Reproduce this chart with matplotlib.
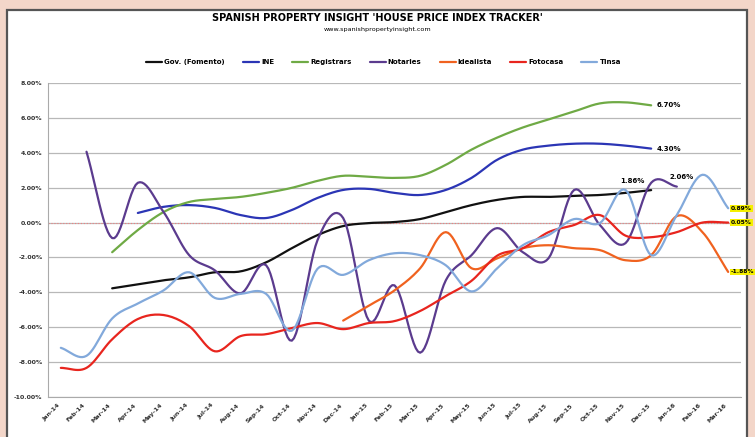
import numpy as np
import matplotlib.pyplot as plt
from matplotlib.patches import Rectangle

plt.rcParams['font.family'] = ['Liberation Sans Narrow', 'DejaVu Sans']

# ---------------------------------------------------------------------------
# DATA (annual % change)
# ---------------------------------------------------------------------------
months = ['Jan-14', 'Feb-14', 'Mar-14', 'Apr-14', 'May-14', 'Jun-14', 'Jul-14',
          'Aug-14', 'Sep-14', 'Oct-14', 'Nov-14', 'Dec-14', 'Jan-15', 'Feb-15',
          'Mar-15', 'Apr-15', 'May-15', 'Jun-15', 'Jul-15', 'Aug-15', 'Sep-15',
          'Oct-15', 'Nov-15', 'Dec-15', 'Jan-16', 'Feb-16', 'Mar-16']

nan = np.nan
fomento = [nan, nan, -3.77, -3.54, -3.31, -3.14, -2.85, -2.80, -2.28, -1.47, -0.72,
           -0.20, -0.03, 0.03, 0.20, 0.60, 1.00, 1.30, 1.47, 1.47, 1.53, 1.58, 1.70,
           1.86, nan, nan, nan]
ine = [nan, nan, nan, 0.55, 0.90, 1.00, 0.84, 0.43, 0.26, 0.72, 1.41, 1.87, 1.93,
       1.70, 1.58, 1.87, 2.56, 3.60, 4.18, 4.41, 4.52, 4.52, 4.41, 4.24, nan, nan, nan]
registradores = [nan, nan, -1.70, -0.43, 0.60, 1.18, 1.35, 1.47, 1.70, 1.99, 2.39,
                 2.68, 2.62, 2.56, 2.68, 3.31, 4.18, 4.87, 5.45, 5.91, 6.37, 6.83,
                 6.89, 6.72, nan, nan, nan]
notarios = [nan, 4.06, -0.89, 2.28, 0.61, -1.87, -2.74, -4.06, -2.45, -6.77, -1.01,
            0.26, -5.62, -3.60, -7.46, -3.31, -1.87, -0.32, -1.70, -2.05, 1.87,
            -0.14, -1.18, 2.28, 2.06, nan, nan]
idealista = [nan, nan, nan, nan, nan, nan, nan, nan, nan, nan, nan, -5.62, -4.76,
             -3.89, -2.62, -0.55, -2.62, -2.05, -1.47, -1.30, -1.47, -1.58, -2.16,
             -1.87, 0.37, -0.55, -2.83]
fotocasa = [-8.33, -8.33, -6.69, -5.53, -5.30, -5.94, -7.38, -6.51, -6.40, -6.05,
            -5.76, -6.11, -5.76, -5.65, -5.07, -4.21, -3.34, -1.90, -1.47, -0.55,
            -0.14, 0.43, -0.75, -0.84, -0.55, 0.00, 0.00]
tinsa = [-7.18, -7.64, -5.50, -4.64, -3.89, -2.85, -4.32, -4.09, -4.09, -6.20, -2.65,
         -3.00, -2.16, -1.76, -1.87, -2.45, -3.95, -2.62, -1.30, -0.72, 0.20, -0.03,
         1.87, -1.87, 0.43, 2.74, 0.82]

series = [
    ('Gov. (Fomento)', fomento, '#111111'),
    ('INE', ine, '#2B35B5'),
    ('Registrars', registradores, '#6FAA45'),
    ('Notaries', notarios, '#5B3B8E'),
    ('Idealista', idealista, '#F0621F'),
    ('Fotocasa', fotocasa, '#E8251E'),
    ('Tinsa', tinsa, '#82A9DB'),
]

end_labels = [('6.70%', registradores), ('4.30%', ine), ('1.86%', fomento), ('2.06%', notarios)]
box_labels = [('0.89%', tinsa), ('0.05%', fotocasa), ('-1.88%', idealista)]


def smooth(x, y, n=12):
    """Catmull-Rom path through the points, like Excel's smoothed line."""
    x = np.asarray(x, float)
    y = np.asarray(y, float)
    if len(x) < 3:
        return x, y
    px = np.concatenate([[2 * x[0] - x[1]], x, [2 * x[-1] - x[-2]]])
    py = np.concatenate([[2 * y[0] - y[1]], y, [2 * y[-1] - y[-2]]])
    t = np.linspace(0, 1, n, endpoint=False)
    xs, ys = [], []
    for i in range(1, len(px) - 2):
        for p, out in ((px, xs), (py, ys)):
            p0, p1, p2, p3 = p[i - 1], p[i], p[i + 1], p[i + 2]
            out.extend(0.5 * ((2 * p1) + (-p0 + p2) * t
                              + (2 * p0 - 5 * p1 + 4 * p2 - p3) * t ** 2
                              + (-p0 + 3 * p1 - 3 * p2 + p3) * t ** 3))
    xs.append(x[-1])
    ys.append(y[-1])
    return np.array(xs), np.array(ys)


# ---------------------------------------------------------------------------
# FIGURE
# ---------------------------------------------------------------------------
fig = plt.figure(figsize=(7.55, 4.37), dpi=100)
fig.patch.set_facecolor('#F3D6C9')
fig.patches.append(Rectangle((7 / 755, -0.05), 740 / 755, 1 - 10 / 437 + 0.05,
                             transform=fig.transFigure, facecolor='white',
                             edgecolor='#555555', linewidth=1.6, zorder=-5))

ax = fig.add_axes([48 / 755, 40 / 437, 693 / 755, 314 / 437])
ax.set_zorder(2)
ax.set_facecolor('white')

x = np.arange(len(months))
for name, vals, color in series:
    v = np.asarray(vals, float)
    ok = ~np.isnan(v)
    sx, sy = smooth(x[ok], v[ok])
    ax.plot(sx, sy, color=color, lw=1.6, label=name, solid_capstyle='round', zorder=3)

ax.axhline(0, color='#F08080', lw=0.8, ls=':', zorder=1)

ax.set_xlim(-0.5, len(months) - 0.5)
ax.set_ylim(-10, 8)
ax.set_yticks(np.arange(-10, 9, 2))
ax.set_yticklabels([f'{t:.2f}%' for t in np.arange(-10, 9, 2)],
                   fontsize=4.5, fontweight='bold', color='#333333')
ax.set_xticks(x)
ax.set_xticklabels(months, rotation=45, ha='right', fontsize=4.5,
                   fontweight='bold', color='#333333')
ax.tick_params(length=0, pad=4)
ax.grid(axis='y', color='#B8B8B8', lw=0.9)
ax.set_axisbelow(True)
for s in ['top', 'right']:
    ax.spines[s].set_visible(False)
for s in ['left', 'bottom']:
    ax.spines[s].set_color('#AAAAAA')

for text, vals in end_labels:
    v = np.asarray(vals, float)
    i = np.where(~np.isnan(v))[0][-1]
    if text == '1.86%':
        ax.text(i - 1.2, v[i] + 0.55, text, fontsize=5, fontweight='bold', va='center')
    elif text == '2.06%':
        ax.text(i - 0.3, v[i] + 0.55, text, fontsize=5, fontweight='bold', va='center')
    else:
        ax.text(i + 0.2, v[i], text, fontsize=5, fontweight='bold', va='center')

for text, vals in box_labels:
    v = np.asarray(vals, float)
    ax.text(len(months) - 0.9, v[-1], text, fontsize=4.3, fontweight='bold', va='center',
            bbox=dict(boxstyle='square,pad=0.15', fc='#F5F000', ec='none'),
            clip_on=False, zorder=5)

fig.text(0.5, 1 - 18 / 437, "SPANISH PROPERTY INSIGHT 'HOUSE PRICE INDEX TRACKER'",
         ha='center', va='center', fontsize=7, fontweight='bold')
fig.text(0.5, 1 - 29 / 437, 'www.spanishpropertyinsight.com',
         ha='center', va='center', fontsize=4.6)
fig.legend(loc='center', bbox_to_anchor=(0.508, 1 - 62 / 437), ncol=7, frameon=False,
           handlelength=2.3, handletextpad=0.3, columnspacing=2.6,
           prop={'weight': 'bold', 'size': 5})

fig.savefig('out.png', dpi=100, facecolor=fig.get_facecolor())
